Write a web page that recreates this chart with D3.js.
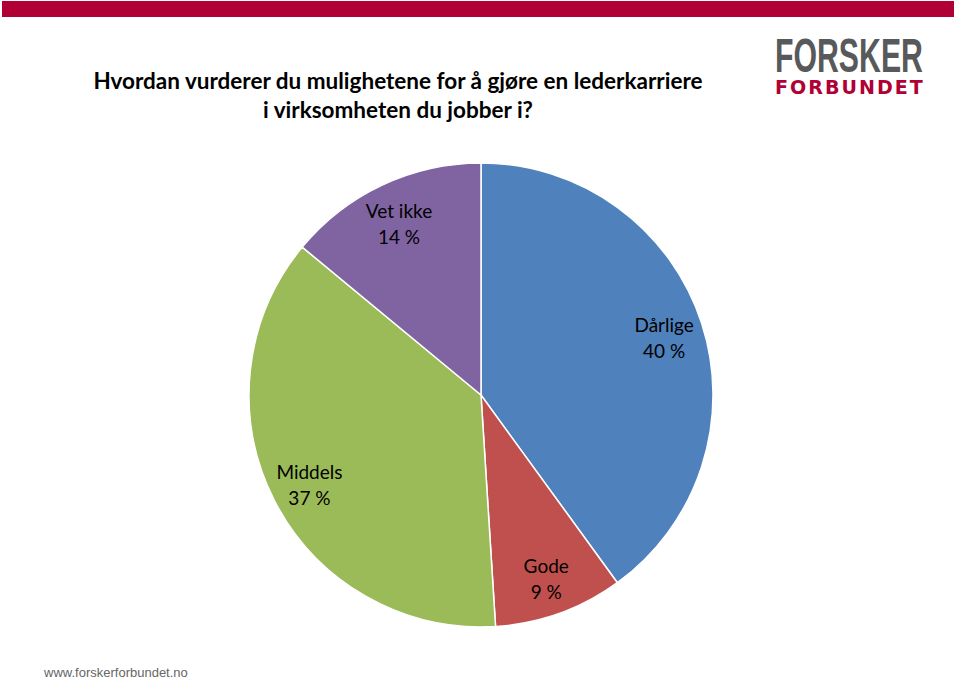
<!DOCTYPE html>
<html><head><meta charset="utf-8">
<script src="https://cdn.jsdelivr.net/npm/d3@7"></script>
<style>body{margin:0;background:#fff}svg{display:block}</style>
</head><body>
<svg id="c" width="960" height="681"></svg>
<script>
const categories = ["Dårlige", "Gode", "Middels", "Vet ikke"];
const values = [40, 9, 37, 14];
const valueLabels = ["40 %", "9 %", "37 %", "14 %"];
const colors = ["#4f81bd", "#c0504d", "#9bbb59", "#8064a2"];
const titleLines = ["Hvordan vurderer du mulighetene for å gjøre en lederkarriere", "i virksomheten du jobber i?"];

const svg = d3.select("#c");
const font = "Lato, 'Open Sans', sans-serif";

// top bar
svg.append("rect").attr("x", 2).attr("y", 1).attr("width", 952).attr("height", 16).attr("fill", "#b00035");

// title
svg.append("g").selectAll("text").data(titleLines).join("text")
  .attr("x", 398).attr("y", (d, i) => 89 + i * 29)
  .attr("text-anchor", "middle").attr("font-family", font).attr("font-weight", "bold")
  .attr("font-size", 22.5).attr("fill", "#000").text(d => d);

// logo (fit horizontally by scaling)
function fitText(sel, x, width) {
  const w = sel.node().getComputedTextLength();
  const y = +sel.attr("y");
  sel.attr("x", 0).attr("y", 0)
    .attr("transform", `translate(${x},${y}) scale(${width / w},1)`);
}
const t1 = svg.append("text").attr("y", 72).attr("font-family", "'Liberation Sans', Arial, sans-serif")
  .attr("font-weight", "bold").attr("font-size", 48).attr("fill", "#58595b").text("FORSKER");
fitText(t1, 775, 148);
const t2 = svg.append("text").attr("y", 94).attr("font-family", "'DejaVu Sans', sans-serif")
  .attr("font-weight", "bold").attr("font-size", 19).attr("fill", "#b00035")
  .attr("letter-spacing", 2).text("FORBUNDET");
fitText(t2, 775, 150);

// pie
const cx = 481, cy = 395, r = 232;
const data = categories.map((c, i) => ({cat: c, value: values[i], label: valueLabels[i], color: colors[i]}));
const pie = d3.pie().value(d => d.value).sort(null);
const arc = d3.arc().innerRadius(0).outerRadius(r);
const arcs = pie(data);
const g = svg.append("g").attr("transform", `translate(${cx},${cy})`);
g.selectAll("path").data(arcs).join("path")
  .attr("d", arc).attr("fill", d => d.data.color)
  .attr("stroke", "#fff").attr("stroke-width", 1.5);

// labels
const labelArc = d3.arc().innerRadius(r * 0.83).outerRadius(r * 0.83);
const lg = g.selectAll("g.lab").data(arcs).join("g").attr("class", "lab")
  .attr("transform", d => { const [x, y] = labelArc.centroid(d); return `translate(${x},${y})`; });
lg.append("text").attr("text-anchor", "middle").attr("y", -3)
  .attr("font-family", font).attr("font-size", 19).attr("fill", "#000").text(d => d.data.cat);
lg.append("text").attr("text-anchor", "middle").attr("y", 23)
  .attr("font-family", font).attr("font-size", 19).attr("fill", "#000").text(d => d.data.label);

// footer
svg.append("text").attr("x", 44).attr("y", 677).attr("font-family", "'Liberation Sans', Arial, sans-serif")
  .attr("font-size", 13).attr("fill", "#666").text("www.forskerforbundet.no");
</script>
</body></html>
